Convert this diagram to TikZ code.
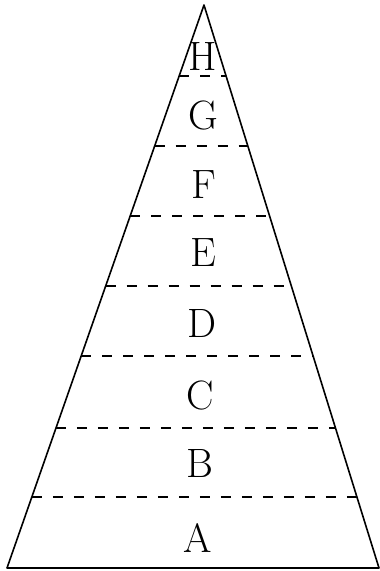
\documentclass[tikz,border=0pt]{standalone}
\usetikzlibrary{calc}
\begin{document}
\begin{tikzpicture}[x=1pt,y=-1pt,
  edge/.style={line width=1.6pt,line cap=round,line join=round},
  divider/.style={line width=1.4pt,dash pattern=on 10pt off 11pt},
  letter/.style={inner sep=0pt,font=\fontsize{41}{41}\selectfont}]
\useasboundingbox (0,0) rectangle (380,571);
\coordinate (apex) at (204,5);
\coordinate (bl) at (7,568);
\coordinate (br) at (379,568);
\draw[edge] (bl) -- (apex) -- (br) -- cycle;
% dividers
\foreach \y/\n in {76/1,146/2,216/3,286/4,356/5,428/6,497/7}{
  \pgfmathsetmacro{\t}{(\y-5)/563}
  \coordinate (l\n) at ($(apex)!\t!(bl)$);
  \coordinate (r\n) at ($(apex)!\t!(br)$);
  \draw[divider] (l\n) -- (r\n);
}
\node[letter] (H) at (203,56) {H};
\node[letter] (G) at (203,115) {G};
\node[letter] (F) at (204,185) {F};
\node[letter] (E) at (203,253) {E};
\node[letter] (D) at (202,323) {D};
\node[letter] (C) at (200,395) {C};
\node[letter] (B) at (200,463) {B};
\node[letter] (A) at (198,538) {A};
\end{tikzpicture}
\end{document}
